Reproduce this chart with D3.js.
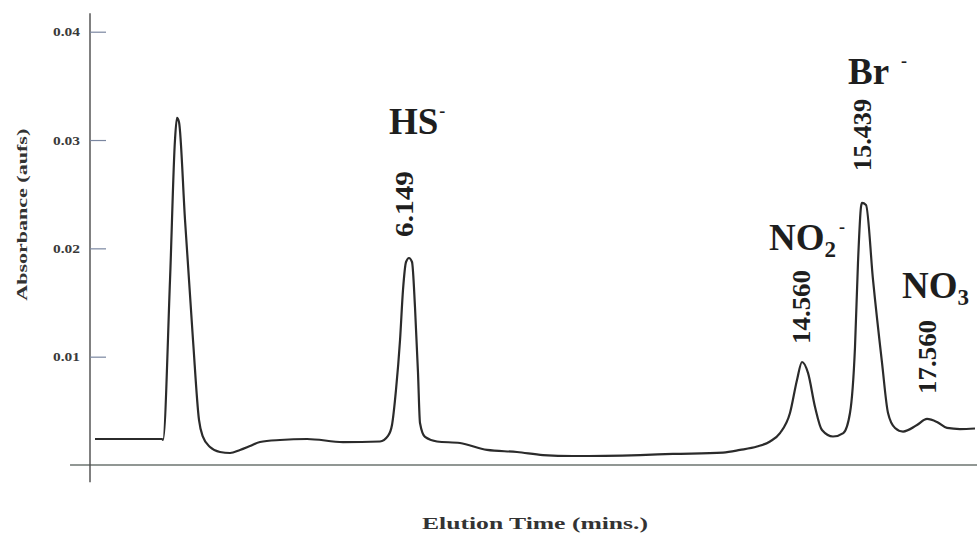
<!DOCTYPE html>
<html>
<head>
<meta charset="utf-8">
<script src="https://cdn.jsdelivr.net/npm/d3@7"></script>
<style>
  body { margin: 0; background: #fff; }
  svg text { font-family: "Liberation Serif", "Times New Roman", serif; font-weight: bold; fill: #1e1e1e; }
</style>
</head>
<body>
<div id="chart"></div>
<script>
// 1. Trace: elution time (min) and absorbance (aufs)
const times = [-0.592, 0.850, 0.872, 1.023, 1.130, 1.173, 1.216, 1.346, 1.518, 1.647, 1.733, 1.884,
  2.099, 2.315, 2.530, 2.745, 2.961, 3.391, 3.973, 4.748, 5.545, 5.717, 5.803, 5.889, 5.976,
  6.040, 6.105, 6.169, 6.234, 6.298, 6.363, 6.406, 6.514, 6.772, 7.267, 7.849, 8.495, 9.055,
  9.700, 11.143, 11.854, 12.931, 13.297, 13.663, 13.943, 14.158, 14.373, 14.524, 14.632,
  14.761, 14.912, 15.062, 15.299, 15.521, 15.665, 15.773, 15.837, 15.902, 15.924, 16.010,
  16.161, 16.355, 16.484, 16.635, 16.807, 17.108, 17.324, 17.539, 17.754, 18.034, 18.357];
const absorbance = [0.0024, 0.0024, 0.00231, 0.01708, 0.0300, 0.03204, 0.03167, 0.02262, 0.01154,
  0.00416, 0.00259, 0.00166, 0.0012, 0.00111, 0.00139, 0.00175, 0.00212, 0.00231, 0.0024,
  0.00212, 0.00217, 0.00268, 0.00369, 0.00693, 0.01154, 0.01616, 0.01874, 0.01911, 0.01874,
  0.01459, 0.0085, 0.00388, 0.00259, 0.00217, 0.00203, 0.00139, 0.0012, 0.00092, 0.00083,
  0.00092, 0.00102, 0.00115, 0.00139, 0.00171, 0.00217, 0.00295, 0.0048, 0.00785, 0.00951,
  0.0085, 0.00536, 0.00323, 0.00263, 0.00295, 0.0048, 0.0109, 0.01865, 0.02382, 0.02419,
  0.02401, 0.01708, 0.00942, 0.0048, 0.00342, 0.00309, 0.00369, 0.00425, 0.00397, 0.00342,
  0.00332, 0.00337];

// 2. Axis ticks
const yTicks = [0.01, 0.02, 0.03, 0.04];

// 3. Peak annotations
const ionNames = ["HS", "Br", "NO", "NO"];
const ionSubs = ["", "", "2", "3"];
const ionCharges = ["-", "-", "-", ""];
const apexTimes = [6.169, 15.924, 14.632, 17.324];
const retentionLabels = ["6.149", "15.439", "14.560", "17.560"];

// label placement relative to each apex (px)
const ionOffsets = [[-20, -124], [-14, -119], [-33, -112], [-25, -121]];
const chargeGap = [1, 12, 3, 0];
const rtOffsets = [[4, -21], [9, -32], [8, -18], [9, -25]];
const rtLengths = [66, 72, 74, 74];

const WIDTH = 977;
const HEIGHT = 540;

const svg = d3.select("#chart")
  .append("svg")
  .attr("width", WIDTH)
  .attr("height", HEIGHT);

const x = d3.scaleLinear().domain([-0.7, 18.4]).range([90, 977]);
const y = d3.scaleLinear().domain([0, 0.04]).range([465, 31.7]);

// axis lines
svg.append("line")
  .attr("x1", x(-1.13)).attr("x2", x(18.4))
  .attr("y1", y(0)).attr("y2", y(0))
  .attr("stroke", "#6d7470").attr("stroke-width", 1.6);

svg.append("line")
  .attr("x1", x(-0.7)).attr("x2", x(-0.7))
  .attr("y1", y(0.0417)).attr("y2", y(-0.0016))
  .attr("stroke", "#4a4a4a").attr("stroke-width", 1.4);

// y ticks point into the plot, labels on the left
const yAxis = svg.append("g")
  .attr("transform", `translate(${x(-0.7)},0)`)
  .call(d3.axisLeft(y).tickValues(yTicks).tickSize(-16).tickPadding(10)
    .tickFormat(d3.format(".2f")));
yAxis.select(".domain").remove();
yAxis.selectAll(".tick line").attr("stroke", "#7a86a0").attr("stroke-width", 1.2);
yAxis.selectAll(".tick text")
  .attr("font-size", "13px")
  .attr("textLength", 27)
  .attr("lengthAdjust", "spacingAndGlyphs")
  .style("fill", "#3a3a3a");

// axis titles
svg.append("text")
  .attr("transform", `translate(27,${y(0.0231)}) rotate(-90)`)
  .attr("text-anchor", "middle")
  .attr("font-size", "15px")
  .attr("textLength", 172)
  .attr("lengthAdjust", "spacingAndGlyphs")
  .style("fill", "#333")
  .text("Absorbance (aufs)");

svg.append("text")
  .attr("x", 535)
  .attr("y", 529)
  .attr("text-anchor", "middle")
  .attr("font-size", "16px")
  .attr("textLength", 226)
  .attr("lengthAdjust", "spacingAndGlyphs")
  .style("fill", "#333")
  .text("Elution Time (mins.)");

// the trace
const points = times.map((t, i) => ({ t: t, a: absorbance[i] }));

const line = d3.line()
  .x((d) => x(d.t))
  .y((d) => y(d.a))
  .curve(d3.curveMonotoneX);

svg.append("path")
  .datum(points)
  .attr("d", line)
  .attr("fill", "none")
  .attr("stroke", "#2b2b2b")
  .attr("stroke-width", 2.2)
  .attr("stroke-linejoin", "round");

// annotations at each apex
apexTimes.forEach((t, i) => {
  const apex = d3.least(points, (d) => Math.abs(d.t - t));
  const px = x(apex.t);
  const py = y(apex.a);

  const ion = svg.append("text")
    .attr("x", px + ionOffsets[i][0])
    .attr("y", py + ionOffsets[i][1])
    .attr("font-size", "37px");
  ion.append("tspan").text(ionNames[i]);
  if (ionSubs[i]) {
    ion.append("tspan").attr("font-size", "23px").attr("dy", 7).text(ionSubs[i]);
  }
  if (ionCharges[i]) {
    ion.append("tspan").attr("font-size", "18px")
      .attr("dx", chargeGap[i])
      .attr("dy", ionSubs[i] ? -24 : -17)
      .text(ionCharges[i]);
  }

  svg.append("text")
    .attr("transform", `translate(${px + rtOffsets[i][0]},${py + rtOffsets[i][1]}) rotate(-90)`)
    .attr("font-size", "25px")
    .attr("textLength", rtLengths[i])
    .attr("lengthAdjust", "spacingAndGlyphs")
    .text(retentionLabels[i]);
});
</script>
</body>
</html>
